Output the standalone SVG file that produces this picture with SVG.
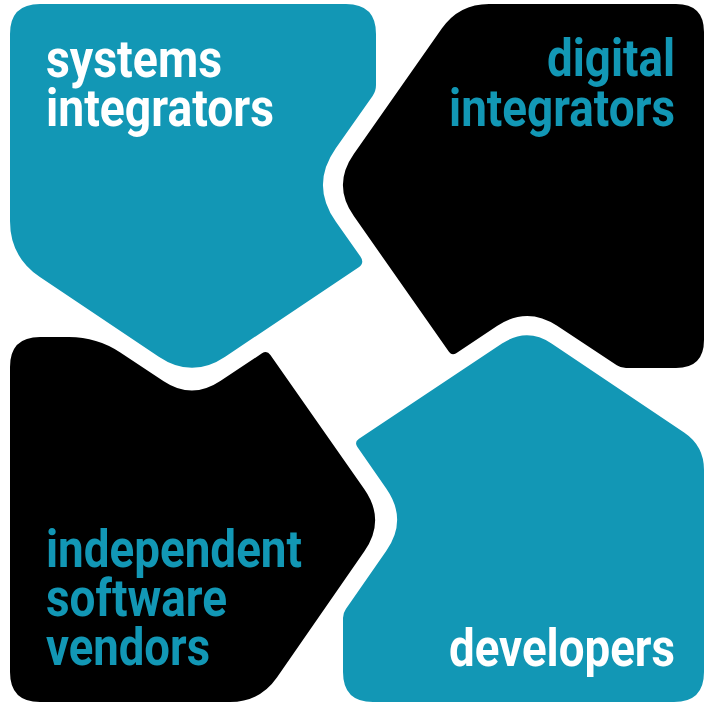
<svg xmlns="http://www.w3.org/2000/svg" width="705" height="703" viewBox="0 0 705 703">
  <style>
    .teal { fill: #1297B5; }
    .dark { fill: #000000; }
    .lbl { font-family: Roboto, "Liberation Sans", Arial, sans-serif; font-weight: 700; font-size: 51px; }
    .onteal { fill: #FFFFFF; }
    .ondark { fill: #1297B5; }
  </style>
  <rect width="705" height="703" fill="#FFFFFF"/>
  <g id="systems-integrators">
    <path class="teal" d="M40,4 L346,4 Q376,4 376,34 L376,85 Q376,91 372.6,95.9 L335.8,148.2 Q310,185 335.9,221.8 L360.4,256.5 Q365,263 358.4,267.5 L225.2,356.7 Q192,379 158.8,356.7 L39.9,277.1 Q10,257 10,221 L10,34 Q10,4 40,4 Z"/>
    <text class="lbl onteal" x="46" y="77" textLength="176" lengthAdjust="spacingAndGlyphs">systems</text>
    <text class="lbl onteal" x="46" y="126" textLength="228" lengthAdjust="spacingAndGlyphs">integrators</text>
  </g>
  <g id="digital-integrators">
    <path class="dark" d="M489,4 L676,4 Q704,4 704,32 L704,340 Q704,368 676,368 L626,368 Q621,368 616.8,365.2 L557.1,325.8 Q527,306 497,326 L456.2,353.2 Q452,356 449.1,351.9 L353.8,216.1 Q332,185 353.8,153.9 L441.8,28.6 Q459,4 489,4 Z"/>
    <text class="lbl ondark" x="675" y="76" text-anchor="end" textLength="128" lengthAdjust="spacingAndGlyphs">digital</text>
    <text class="lbl ondark" x="675" y="126" text-anchor="end" textLength="226" lengthAdjust="spacingAndGlyphs">integrators</text>
  </g>
  <g id="independent-software-vendors">
    <path class="dark" d="M40,337 L69,337 Q97,337 120.3,352.5 L163.7,381.2 Q192,400 220.3,381.1 L262,353.3 Q267,350 270.4,354.9 L364.2,488.9 Q386,520 364.4,551.2 L277.1,677.3 Q260,702 230,702 L40,702 Q10,702 10,672 L10,367 Q10,337 40,337 Z"/>
    <text class="lbl ondark" x="46" y="567" textLength="256" lengthAdjust="spacingAndGlyphs">independent</text>
    <text class="lbl ondark" x="46" y="616" textLength="181" lengthAdjust="spacingAndGlyphs">software</text>
    <text class="lbl ondark" x="46" y="665" textLength="164" lengthAdjust="spacingAndGlyphs">vendors</text>
  </g>
  <g id="developers">
    <path class="teal" d="M359,438.7 L502,343.6 Q527,327 551.9,343.7 L684.1,432.6 Q704,446 704,470 L704,672 Q704,702 674,702 L373,702 Q343,702 343,672 L343,618 Q343,613 345.9,608.9 L386.2,551.1 Q408,520 386.4,488.8 L357.4,446.9 Q354,442 359,438.7 Z"/>
    <text class="lbl onteal" x="675" y="666" text-anchor="end" textLength="226" lengthAdjust="spacingAndGlyphs">developers</text>
  </g>
  <g id="connectors"/>
</svg>
